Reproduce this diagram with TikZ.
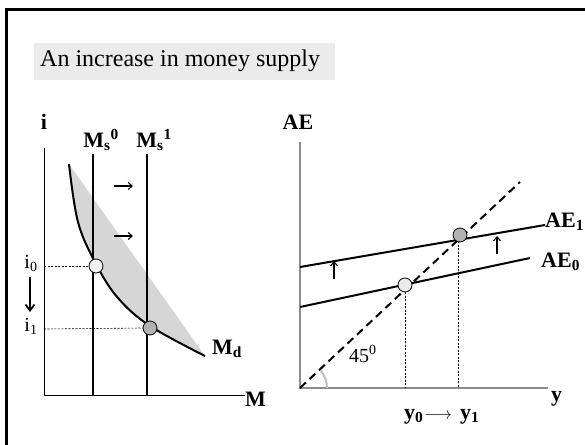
\documentclass[tikz,border=0pt]{standalone}
\usepackage{fontspec}
\setmainfont{Liberation Serif}
\usetikzlibrary{arrows.meta}
\begin{document}
\begin{tikzpicture}[x=1pt,y=-1pt,
  lbl/.style={font=\fontsize{22}{26}\selectfont\bfseries, inner sep=0pt},
  sml/.style={font=\fontsize{20}{24}\selectfont, inner sep=0pt},
  axis/.style={line width=1pt},
  axisg/.style={line width=1.2pt, draw=black!45},
  supply/.style={line width=2.4pt},
  curve/.style={line width=2pt},
  guide/.style={line width=0.6pt, dash pattern=on 2pt off 1.5pt},
  eqpt/.style={circle, draw=black, line width=0.8pt, minimum size=14pt, inner sep=0pt},
  shiftarrow/.style={line width=1.1pt, -{Straight Barb[length=4pt,width=7pt]}}
]
\useasboundingbox (0,0) rectangle (585,444);
% frame
\draw[line width=3pt] (6.5,600) -- (6.5,9.5) -- (600,9.5);
% title
\node[fill=black!8, minimum width=301pt, minimum height=37pt, anchor=north west, inner sep=0pt] (titlebox) at (34,43) {};
\node[font=\fontsize{24}{28}\selectfont, anchor=west, inner sep=0pt] (title) at (40,61) {An increase in money supply};

% ---------------- left panel ----------------
\coordinate (lo) at (44,395);
\coordinate (ltop) at (44,148);
\coordinate (lend) at (245,395);
\draw[axis] (ltop) -- (lo) -- (lend);
\node[lbl, anchor=west] (Mlab) at (245,399) {M};
\node[lbl] (ilab) at (44,122) {i};

% shaded region + Md curve
\fill[black!16] plot[smooth, tension=0.6] coordinates {(69,164) (78,222) (96,264) (118,298) (150,326) (205,356)} -- cycle;
\draw[curve] plot[smooth, tension=0.6] coordinates {(69,164) (78,222) (96,264) (118,298) (150,326) (205,356)};
\node[lbl, anchor=west] (Mdlab) at (212,349) {M\textsubscript{d}};

% supply lines
\coordinate (ms0t) at (93,154); \coordinate (ms0b) at (93,395);
\coordinate (ms1t) at (147,154); \coordinate (ms1b) at (147,395);
\draw[line width=2pt] (ms0t) -- (ms0b);
\draw[supply] (ms1t) -- (ms1b);
\node[lbl] (ms0lab) at (101,140) {M\textsubscript{s}\textsuperscript{0}};
\node[lbl] (ms1lab) at (154,140) {M\textsubscript{s}\textsuperscript{1}};

% shift arrows
\coordinate (ra1s) at (114,186); \coordinate (ra1e) at (133,186);
\coordinate (ra2s) at (114,236); \coordinate (ra2e) at (133,236);
\draw[shiftarrow] (ra1s) -- (ra1e);
\draw[shiftarrow] (ra2s) -- (ra2e);

% equilibrium points
\node[eqpt, fill=black!5] (e0) at (96,266) {};
\node[eqpt, fill=black!30] (e1) at (150,328) {};
\coordinate (i0ax) at (44,266);
\coordinate (i1ax) at (44,329);
\draw[guide] (i0ax) -- (e0.west);
\draw[guide] (i1ax) -- (e1.west);
\node[sml] (i0lab) at (31,263) {i\textsubscript{0}};
\node[sml] (i1lab) at (31,326) {i\textsubscript{1}};
\coordinate (da1) at (30,277); \coordinate (da2) at (30,312);
\draw[line width=1.8pt, -{Straight Barb[length=6pt,width=9pt]}] (da1) -- (da2);

% ---------------- right panel ----------------
\coordinate (ro) at (300,388);
\coordinate (rtop) at (300,142);
\coordinate (rend) at (548,388);
\draw[axisg] (rtop) -- (ro) -- (rend);
\node[lbl] (AElab) at (298,122) {AE};
\node[lbl, anchor=west] (ylab) at (551,399) {y};

% 45 degree line
\coordinate (d45) at (520,182);
\draw[line width=2pt, dash pattern=on 8pt off 5pt] (ro) -- (d45);
\fill[black!25] (ro) ++(28,0) arc (0:-40:28) -- ++(-1.5,1.3) arc (-40:0:26) -- cycle;
\node[sml, anchor=west] (ang) at (349,354) {45\textsuperscript{0}};

% AE lines
\coordinate (ae1a) at (300,267); \coordinate (ae1b) at (545,225);
\coordinate (ae0a) at (300,307); \coordinate (ae0b) at (530,258);
\draw[curve] (ae1a) -- (ae1b);
\draw[curve] (ae0a) -- (ae0b);
\node[lbl, anchor=west] (ae1lab) at (545,222) {AE\textsubscript{1}};
\node[lbl, anchor=west] (ae0lab) at (541,262) {AE\textsubscript{0}};

% up arrows
\coordinate (ua1s) at (334,279); \coordinate (ua1e) at (334,261);
\coordinate (ua2s) at (497,254); \coordinate (ua2e) at (497,236);
\draw[shiftarrow] (ua1s) -- (ua1e);
\draw[shiftarrow] (ua2s) -- (ua2e);

% equilibrium points
\node[eqpt, fill=black!8] (f0) at (405,285) {};
\node[eqpt, fill=black!30] (f1) at (460,235) {};
\coordinate (y0ax) at (405,388);
\coordinate (y1ax) at (458,388);
\draw[guide] (f0.south) -- (y0ax);
\draw[guide] (458,241) -- (y1ax);

\node[lbl, anchor=west] (y0y1) at (404,417) {y\textsubscript{0}\hspace{1pt}{\fontsize{16}{18}\selectfont$\longrightarrow$}\hspace{8pt}y\textsubscript{1}};
\end{tikzpicture}
\end{document}
